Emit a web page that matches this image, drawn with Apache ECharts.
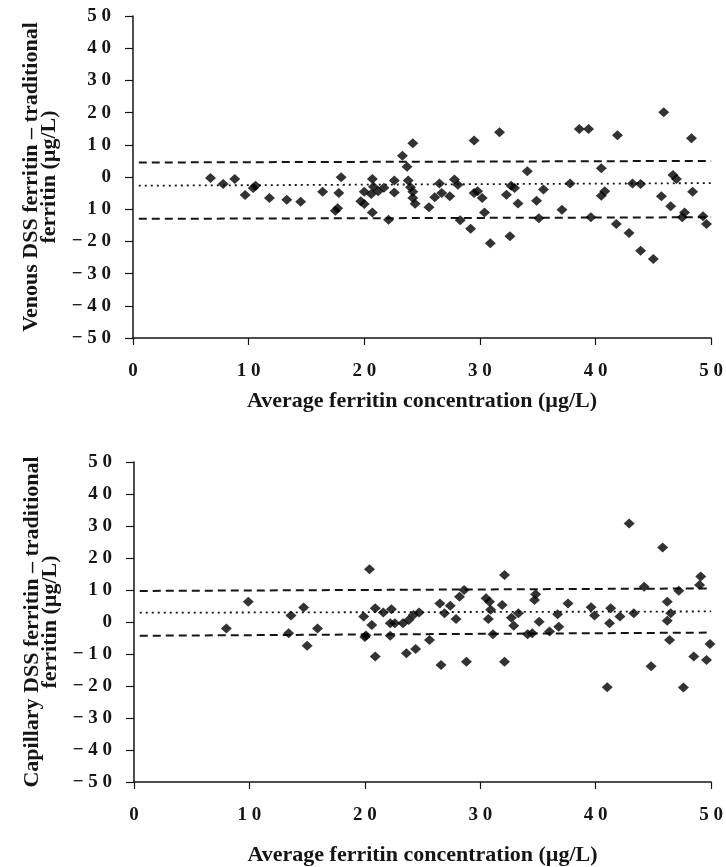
<!DOCTYPE html>
<html>
<head>
<meta charset="utf-8">
<script src="https://cdn.jsdelivr.net/npm/echarts@6/dist/echarts.min.js"></script>
<style>
  html, body { margin: 0; padding: 0; background: #fff; }
  #chart { width: 726px; height: 867px; }
</style>
</head>
<body>
<div id="chart"></div>
<script>
// x ticks and y tick labels (the top panel prints "10" where -10 belongs)
const xTicks = [0, 10, 20, 30, 40, 50];
const yTicks = [-50, -40, -30, -20, -10, 0, 10, 20, 30, 40, 50];
const venousYLabels = ["−50", "−40", "−30", "−20", "10", "0", "10", "20", "30", "40", "50"];
const capillaryYLabels = ["−50", "−40", "−30", "−20", "−10", "0", "10", "20", "30", "40", "50"];

// venous DSS vs traditional: average (x) and difference (y)
const venousAvg = [6.7, 7.8, 8.8, 9.7, 10.6, 10.4, 11.8, 13.3, 14.5, 16.4, 18.0, 17.8, 17.7, 17.5,
  19.7, 20.0, 20.0, 20.7, 20.8, 20.6, 20.7, 21.2, 21.7, 22.1, 22.6, 22.6, 23.3, 23.7, 23.8, 24.2,
  24.0, 24.2, 24.2, 24.4, 25.6, 26.1, 26.5, 26.7, 27.4, 27.8, 28.1, 28.3, 29.2, 29.5, 29.5,
  29.8, 30.2, 30.4, 30.9, 31.7, 32.3, 32.7, 33.0, 32.6, 33.3, 34.1, 34.9, 35.5, 35.1, 37.1, 37.8,
  38.6, 39.4, 39.6, 40.5, 40.5, 40.8, 41.9, 41.8, 42.9, 43.2, 43.9, 43.9, 45.0, 45.9, 45.7, 46.5,
  46.7, 47.0, 47.5, 47.7, 48.3, 48.4, 49.3, 49.6];
const venousDiff = [-0.3, -2.2, -0.6, -5.6, -2.7, -3.4, -6.5, -7.1, -7.7, -4.6, -0.1, -5.0, -9.7, -10.5,
  -7.5, -8.4, -4.6, -0.6, -3.0, -5.3, -11.0, -4.4, -3.3, -13.3, -1.1, -4.8, 6.6, 3.2, -1.1, 10.5,
  -3.2, -4.6, -6.5, -8.3, -9.4, -6.3, -2.0, -5.0, -6.0, -0.8, -2.4, -13.4, -16.1, 11.3, -5.0,
  -4.4, -6.5, -11.0, -20.6, 13.9, -5.5, -2.7, -3.4, -18.4, -8.2, 1.8, -7.4, -3.9, -12.8, -10.2, -2.0,
  14.9, 14.9, -12.5, 2.7, -5.8, -4.4, 13.0, -14.6, -17.4, -2.0, -2.2, -22.9, -25.5, 20.1, -6.0, -9.1,
  0.6, -0.6, -12.5, -11.0, 12.0, -4.6, -12.2, -14.6];
// mean difference and limits of agreement: [x, y] at both ends
const venousUpper = [[0.5, 4.5], [50, 5.0]];
const venousMean = [[0.5, -2.7], [50, -1.9]];
const venousLower = [[0.5, -13.0], [50, -12.5]];

// capillary DSS vs traditional
const capillaryAvg = [8.0, 9.9, 13.4, 13.6, 14.7, 15.0, 15.9, 19.9, 20.0, 20.1, 20.4, 20.6, 20.9, 20.9,
  21.6, 22.3, 22.2, 22.6, 22.2, 23.3, 23.6, 23.8, 24.2, 24.7, 24.4, 25.6, 26.6, 26.5, 26.9, 27.4,
  27.9, 28.2, 28.6, 28.8, 30.5, 30.8, 30.7, 30.9, 31.1, 32.1, 31.9, 32.1, 32.7, 32.9, 33.3, 34.1,
  34.5, 34.7, 34.8, 35.1, 36.0, 36.7, 36.8, 37.6, 39.6, 39.9, 41.0, 41.3, 41.2, 42.1, 42.9, 43.3,
  44.2, 44.8, 45.8, 46.2, 46.5, 46.2, 46.4, 47.2, 47.6, 48.5, 49.1, 49.0, 49.6, 49.9];
const capillaryDiff = [-2.0, 6.3, -3.5, 2.0, 4.5, -7.4, -2.0, 1.7, -4.7, -4.2, 16.5, -0.9, -10.8, 4.3,
  3.0, 4.0, -0.4, -0.4, -4.3, -0.4, -9.8, 0.6, 2.2, 3.0, -8.4, -5.6, -13.4, 5.8, 2.7, 5.1,
  0.9, 7.9, 10.0, -12.4, 7.4, 6.3, 0.9, 3.8, -3.8, 14.7, 5.3, -12.4, 1.3, -1.2, 2.7, -3.8,
  -3.5, 6.9, 8.7, 0.1, -3.0, 2.4, -1.5, 5.8, 4.6, 2.0, -20.4, 4.3, -0.4, 1.7, 30.8, 2.7,
  11.0, -13.8, 23.3, 6.3, 2.7, 0.4, -5.6, 9.8, -20.5, -10.8, 14.2, 11.6, -11.9, -6.9];
const capillaryUpper = [[0.5, 9.7], [50, 10.5]];
const capillaryMean = [[0.5, 2.9], [50, 3.3]];
const capillaryLower = [[0.5, -4.3], [50, -3.3]];

const FONT = '"Liberation Serif", "Times New Roman", serif';
const INK = "#151515";

// the figure prints digits letter-spaced: "5 0", "− 5 0"
function spaced(s) {
  const neg = s.startsWith("−");
  const digits = (neg ? s.slice(1) : s).split("").join(" ");
  return neg ? "− " + digits : digits;
}

function xAxisFor(gridIndex, nameGap) {
  return {
    gridIndex: gridIndex,
    type: "value",
    min: 0,
    max: 50,
    interval: 10,
    name: "Average ferritin concentration (µg/L)",
    nameLocation: "middle",
    nameGap: nameGap,
    nameTextStyle: { fontFamily: FONT, fontWeight: "bold", fontSize: 22, color: INK },
    axisLine: { onZero: false, lineStyle: { color: INK, width: 1.5 } },
    axisTick: { show: true, length: 7, lineStyle: { color: INK, width: 1.2 } },
    axisLabel: {
      margin: 24,
      fontFamily: FONT,
      fontWeight: "bold",
      fontSize: 19,
      color: INK,
      formatter: (v) => spaced(String(xTicks[xTicks.indexOf(v)]))
    },
    splitLine: { show: false }
  };
}

function yAxisFor(gridIndex, title, labels) {
  return {
    gridIndex: gridIndex,
    type: "value",
    min: -50,
    max: 50,
    interval: 10,
    name: title,
    nameLocation: "middle",
    nameRotate: 90,
    nameGap: 71,
    nameTextStyle: { fontFamily: FONT, fontWeight: "bold", fontSize: 22, lineHeight: 18, color: INK },
    axisLine: { show: true, onZero: false, lineStyle: { color: INK, width: 1.5 } },
    axisTick: { show: true, length: 8, lineStyle: { color: INK, width: 1.2 } },
    axisLabel: {
      margin: 22,
      fontFamily: FONT,
      fontWeight: "bold",
      fontSize: 19,
      color: INK,
      formatter: (v) => spaced(labels[yTicks.indexOf(v)])
    },
    splitLine: { show: false }
  };
}

function points(xs, ys) {
  return xs.map((x, i) => [x, ys[i]]);
}

function scatter(idx, xs, ys) {
  return {
    type: "scatter",
    xAxisIndex: idx,
    yAxisIndex: idx,
    data: points(xs, ys),
    symbol: "diamond",
    symbolSize: [11, 10],
    itemStyle: { color: "#000" },
    z: 3
  };
}

function refLine(idx, data, dash, width) {
  return {
    type: "line",
    xAxisIndex: idx,
    yAxisIndex: idx,
    data: data,
    symbol: "none",
    silent: true,
    lineStyle: { color: INK, width: width, type: dash },
    z: 2
  };
}

const chart = echarts.init(document.getElementById("chart"));
chart.setOption({
  backgroundColor: "#fff",
  animation: false,
  grid: [
    { left: 133, right: 14, top: 16, height: 322 },
    { left: 134, right: 13, top: 462, height: 320 }
  ],
  xAxis: [xAxisFor(0, 52), xAxisFor(1, 62)],
  yAxis: [
    yAxisFor(0, "Venous DSS ferritin – traditional\nferritin (µg/L)", venousYLabels),
    yAxisFor(1, "Capillary DSS ferritin – traditional\nferritin (µg/L)", capillaryYLabels)
  ],
  series: [
    refLine(0, venousUpper, [8, 5], 2),
    refLine(0, venousMean, [2, 4], 1.8),
    refLine(0, venousLower, [8, 5], 2),
    scatter(0, venousAvg, venousDiff),
    refLine(1, capillaryUpper, [8, 5], 2),
    refLine(1, capillaryMean, [2, 4], 1.8),
    refLine(1, capillaryLower, [8, 5], 2),
    scatter(1, capillaryAvg, capillaryDiff)
  ]
});
</script>
</body>
</html>
